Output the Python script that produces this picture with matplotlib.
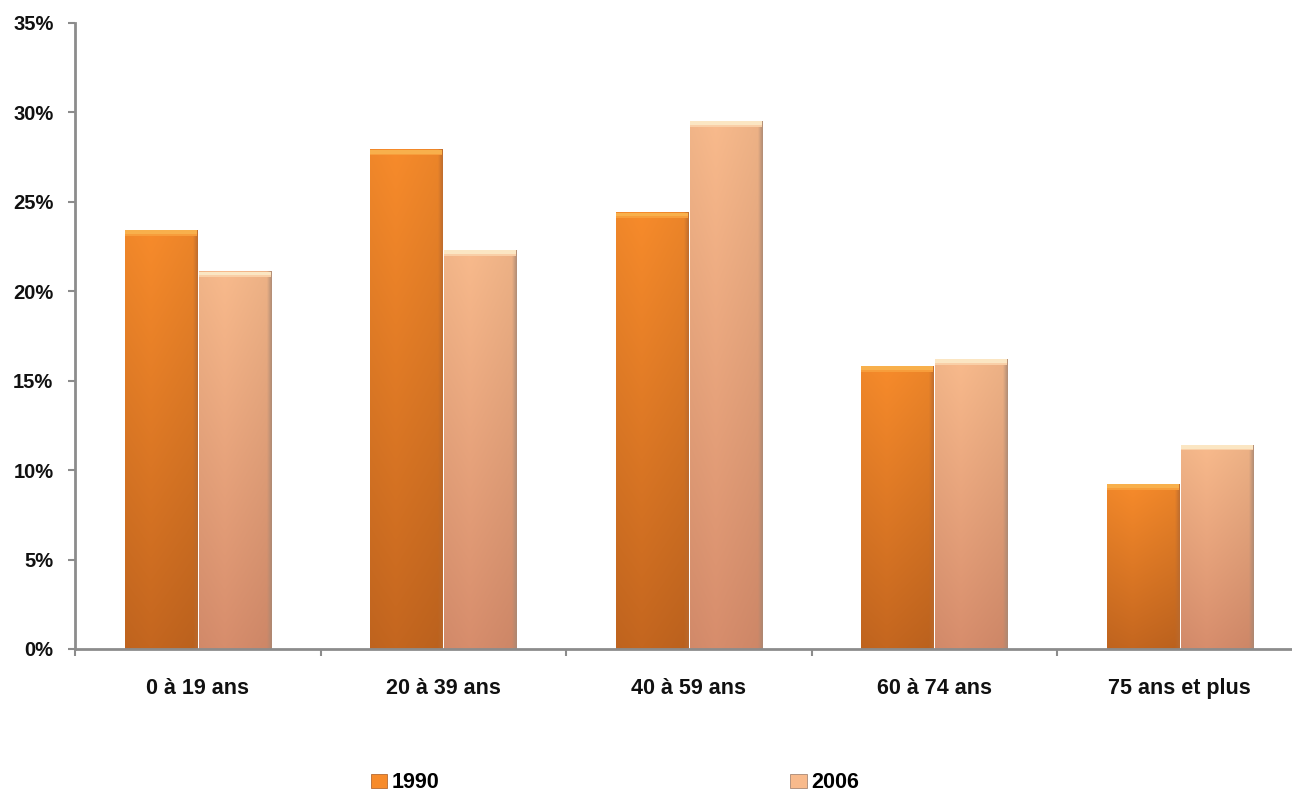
import numpy as np
import matplotlib
matplotlib.use("Agg")
import matplotlib.pyplot as plt
from matplotlib.patches import Patch, Rectangle
from matplotlib.colors import to_rgb
from matplotlib.ticker import FixedLocator, FuncFormatter

categories = ["0 à 19 ans", "20 à 39 ans", "40 à 59 ans", "60 à 74 ans", "75 ans et plus"]
series_names = ["1990", "2006"]
values_1990 = [23.4, 27.9, 24.4, 15.8, 9.2]
values_2006 = [21.1, 22.3, 29.5, 16.2, 11.4]
y_ticks = [0, 5, 10, 15, 20, 25, 30, 35]

plt.rcParams["font.family"] = ["Liberation Sans", "DejaVu Sans"]
plt.rcParams["font.weight"] = "bold"

W, H, DPI = 1292, 793, 100
fig = plt.figure(figsize=(W / DPI, H / DPI), dpi=DPI)
fig.patch.set_facecolor("white")

left_px, zero_px, top_px, cat_px = 75, 649, 23, 245.5
ax = fig.add_axes([left_px / W, (H - zero_px) / H,
                   cat_px * 5 / W, (zero_px - top_px) / H])
ax.set_xlim(-0.5, 4.5)
ax.set_ylim(0, 35)

# (top colour, bottom colour, cap colour, side shade colour)
styles = {
    "1990": ("#F78B2B", "#C4661F", "#F8B04C", "#B86A30"),
    "2006": ("#F8BA8C", "#D78D6C", "#FBE6C3", "#A88874"),
}

x = np.arange(len(categories))
width = 0.294
offset = 0.1507
cap_h = 0.3


def gradient_bar(rect, top_c, bot_c, cap_c, side_c):
    x0, y0 = rect.get_x(), rect.get_y()
    w, h = rect.get_width(), rect.get_height()
    ny, nx = 200, 60
    t = np.linspace(0, 1, ny)[:, None, None]
    top = np.array(to_rgb(top_c))[None, None, :]
    bot = np.array(to_rgb(bot_c))[None, None, :]
    img = top * (1 - t) + bot * t
    img = np.repeat(img, nx, axis=1)
    u = np.linspace(0, 1, nx)
    prof = 1.0 - 0.05 * np.abs(u - 0.35) / 0.65
    img = img * prof[None, :, None]
    side = np.array(to_rgb(side_c))
    edge = np.clip((u - 0.94) / 0.06, 0, 1)[None, :, None]
    img = img * (1 - edge * 0.8) + side[None, None, :] * edge * 0.8
    img = np.clip(img, 0, 1)
    ax.imshow(img, extent=(x0, x0 + w, y0, y0 + h), aspect="auto",
              origin="upper", zorder=2, interpolation="bilinear")
    ax.add_patch(Rectangle((x0, y0 + h - cap_h), w, cap_h,
                           facecolor=cap_c, edgecolor="none", zorder=3))
    ax.add_patch(Rectangle((x0, y0 + h - cap_h), w, cap_h * 0.3,
                           facecolor=top_c, edgecolor="none", alpha=0.5, zorder=3))


for name, vals, sign in [("1990", values_1990, -1), ("2006", values_2006, 1)]:
    bars = ax.bar(x + sign * offset, vals, width=width, color="none",
                  edgecolor="none", zorder=1)
    for rect in bars:
        gradient_bar(rect, *styles[name])

axis_c = "#8C8C8C"
for s in ["top", "right"]:
    ax.spines[s].set_visible(False)
for s in ["left", "bottom"]:
    ax.spines[s].set_color(axis_c)
    ax.spines[s].set_linewidth(2)
    ax.spines[s].set_zorder(4)

ax.yaxis.set_major_locator(FixedLocator(y_ticks))
ax.yaxis.set_major_formatter(FuncFormatter(lambda v, p: f"{v:.0f}%"))
ax.tick_params(axis="y", length=5, width=1.5, color=axis_c, labelsize=14.5,
               pad=10.5, labelcolor="#111111")

ax.set_xticks(x)
ax.set_xticklabels(categories)
ax.tick_params(axis="x", which="major", length=0, labelsize=15.5, pad=21,
               labelcolor="#111111")
ax.set_xticks(np.arange(-0.5, 5, 1.0), minor=True)
ax.tick_params(axis="x", which="minor", length=5, width=1.5, color=axis_c)

handles = [Patch(facecolor=styles[n][0], edgecolor=styles[n][3], linewidth=0.6)
           for n in series_names]
fig.legend(handles, series_names, loc="center",
           bbox_to_anchor=(615 / W, 1 - 783 / H), ncol=2, frameon=False,
           fontsize=15.5, handlelength=0.75, handleheight=0.65, handletextpad=0.2,
           columnspacing=16.3, borderpad=0)

fig.savefig("out.png", dpi=DPI, facecolor="white")
